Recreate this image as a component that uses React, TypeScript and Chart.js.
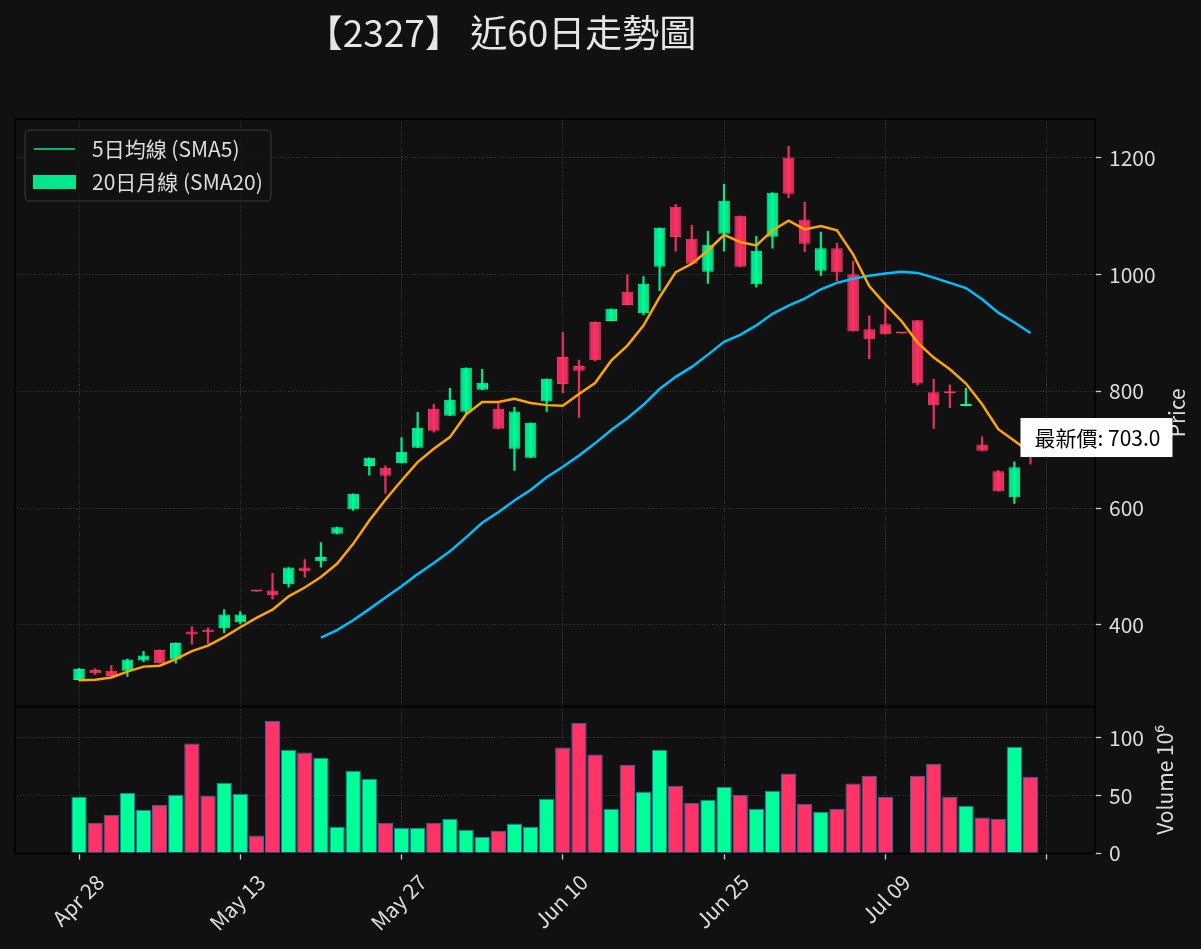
import React, { useEffect, useRef } from 'react';
import { Chart, registerables } from 'chart.js';

Chart.register(...registerables);

const FONT = "'Noto Sans CJK TC', 'Noto Sans', sans-serif";
const BG = '#111111';
const UP = '#00ff99';
const DOWN = '#ff3366';
const UP_FILL = 'rgba(0,255,153,0.9)';
const DOWN_FILL = 'rgba(255,51,102,0.9)';
const TEXT = '#dddddd';

const chartTitle = '【2327】 近60日走勢圖';
const xTickLabels = ['Apr 28', 'May 13', 'May 27', 'Jun 10', 'Jun 25', 'Jul 09', ''];
const priceTicks = [400, 600, 800, 1000, 1200];
const volumeTicks = [0, 50, 100];
const legendLabels = ['5日均線 (SMA5)', '20日月線 (SMA20)'];
const priceLabelPrefix = '最新價: ';

const opens = [
  305.6, 322.8, 321.6, 321.6, 338.8, 357.1, 340.5, 388.5, 392, 394.2,
  404.5, 457, 458.8, 469.7, 498.3, 509.1, 556, 598.3, 672, 669.1,
  677.1, 703.4, 770.3, 758.3, 765.1, 802.8, 770.3, 701.7, 686.3, 782.9,
  859, 843.5, 919, 920.8, 970.6, 933.9, 1013.5, 1116.5, 1061.5, 1004.9,
  1070.1, 1101, 983.7, 1065, 1200.6, 1094.7, 1006.9, 1045.1, 1000.6, 906.4,
  915, 899, 921.8, 798.6, 798, 775, 709, 663.3, 618.8, 712,
];
const highs = [
  325.5, 325.1, 330.2, 341.6, 354.8, 357.1, 369.1, 397.1, 394.8, 426.2,
  422.8, 457, 488, 498.3, 512, 541.1, 567.4, 624.6, 686.3, 672.6,
  721.1, 764, 777.7, 805.1, 840.5, 837.7, 780, 772.6, 746.3, 821.7,
  900.7, 853.8, 919, 941.4, 1000.3, 996.9, 1080.4, 1120.5, 1084.4, 1074.1,
  1154.8, 1101, 1065.5, 1140.5, 1220, 1124.4, 1073, 1053.6, 1023.4, 929.3,
  946.4, 899, 921.8, 820.8, 811.1, 805.4, 722.1, 665, 679.3, 718,
];
const lows = [
  305, 315.3, 312, 311.9, 337.1, 334.2, 334.2, 366.8, 367.9, 386.8,
  401.7, 457, 444, 464.6, 481.7, 498.8, 556, 596, 656.6, 625.7,
  677.1, 703.4, 730.3, 758.3, 760.5, 802.8, 736, 664.6, 686.3, 765.7,
  797.2, 755.4, 852.1, 920.8, 948.2, 931.1, 972.8, 1040.4, 1018.6, 984.9,
  1040.4, 1013.5, 978.6, 1045.5, 1131.3, 1039.4, 998.3, 989.2, 903, 856.2,
  897.9, 899, 810.6, 736.4, 772.3, 775, 698.2, 629.1, 608, 675.3,
];
const closes = [
  324.5, 317.1, 312.5, 340.5, 347.4, 334.2, 369.1, 383.9, 387.4, 417.7,
  417.7, 457, 450.8, 498.3, 492, 516.5, 567.4, 624.6, 686.3, 655.4,
  696.6, 737.7, 732.6, 785.7, 840.5, 814.8, 736, 765.7, 746.3, 821.7,
  812.6, 835.5, 853.3, 941.4, 948.2, 984.3, 1080.4, 1064.4, 1018.6, 1051.2,
  1126.8, 1013.5, 1040.9, 1140.5, 1138.8, 1053.1, 1045.1, 1004, 903, 889.3,
  897.9, 899, 813.4, 776.3, 796.9, 775.8, 698.2, 629.1, 670.2, 703,
];
// millions of shares
const volumes = [
  49, 26.5, 33.4, 52.4, 37.8, 42.1, 50.7, 95.1, 49.9, 61.1,
  51.6, 15.6, 114.7, 89.6, 87.3, 82.7, 23.1, 71.5, 64.6, 26.5,
  22.2, 22.2, 26.5, 30, 20.5, 14.4, 19.6, 25.6, 23.1, 47.3,
  91.5, 113, 85.6, 38.6, 76.7, 53.3, 89.6, 58.5, 43.8, 46.4,
  57.6, 50.7, 38.6, 54.2, 69.2, 42.9, 36, 38.6, 60.5, 67.1,
  49, 0, 67.1, 77.5, 49, 41.2, 31.1, 30, 92.2, 66.3,
];
const sma5 = [
  305, 306, 310, 320, 328.5, 330, 341.5, 355, 364.5, 379,
  396, 412, 426, 449, 464, 482, 504.6, 538.8, 578.8, 614.3,
  647.4, 678.8, 701.7, 721.7, 760.5, 781.7, 781.7, 787.4, 780, 776.5,
  775.5, 795.5, 814.3, 852.7, 878.4, 912.8, 961.4, 1004.3, 1018.6, 1041.5,
  1068.4, 1055.8, 1050.1, 1075.8, 1092.5, 1077.6, 1083.3, 1075.9, 1034.8, 980.6,
  949.2, 920.7, 883.6, 857.9, 838, 813.4, 778, 735.2, 715.3, 695,
];
const sma20 = [
  null, null, null, null, null, null, null, null, null, null,
  null, null, null, null, null, 378, 391, 408, 427, 447,
  466, 487, 506, 526, 550, 575, 593, 613, 631, 653,
  671, 690, 711, 734, 754, 777, 804, 825, 842, 863,
  885, 897, 913, 933, 947, 959, 975, 986, 993, 998,
  1002, 1005, 1003, 995, 986, 977, 958, 935, 918, 900,
];

const decorPlugin = {
  id: 'decor',
  beforeDraw(chart: any) {
    const { ctx, width, height } = chart;
    ctx.save();
    ctx.fillStyle = BG;
    ctx.fillRect(0, 0, width, height);
    ctx.restore();
  },
  afterDraw(chart: any) {
    const { ctx, chartArea } = chart;
    const ys = chart.scales.y;
    const yv = chart.scales.yv;
    const xs = chart.scales.x;
    ctx.save();
    // spines
    ctx.strokeStyle = '#000000';
    ctx.lineWidth = 1.6;
    ctx.strokeRect(chartArea.left, ys.top, chartArea.right - chartArea.left, ys.bottom - ys.top);
    ctx.strokeRect(chartArea.left, yv.top, chartArea.right - chartArea.left, yv.bottom - yv.top);

    // title
    ctx.fillStyle = '#e6e6e6';
    ctx.font = `37px ${FONT}`;
    ctx.textAlign = 'center';
    ctx.textBaseline = 'middle';
    ctx.fillText(chartTitle, 501, 33);

    // axis titles (rotated, reading upward)
    ctx.font = `21px ${FONT}`;
    ctx.fillStyle = TEXT;
    ctx.save();
    ctx.translate(1177, (ys.top + ys.bottom) / 2);
    ctx.rotate(-Math.PI / 2);
    ctx.fillText('Price', 0, 0);
    ctx.restore();
    ctx.save();
    ctx.translate(1165, (yv.top + yv.bottom) / 2);
    ctx.rotate(-Math.PI / 2);
    ctx.fillText('Volume 10⁶', 0, 0);
    ctx.restore();

    // legend
    const lx = chartArea.left + 10;
    const ly = chartArea.top + 11;
    ctx.beginPath();
    ctx.roundRect(lx, ly, 246, 71, 4);
    ctx.fillStyle = 'rgba(17,17,17,0.8)';
    ctx.fill();
    ctx.strokeStyle = '#383838';
    ctx.lineWidth = 1;
    ctx.stroke();
    ctx.strokeStyle = UP_FILL;
    ctx.lineWidth = 1.5;
    ctx.beginPath();
    ctx.moveTo(lx + 9, ly + 19);
    ctx.lineTo(lx + 50, ly + 19);
    ctx.stroke();
    ctx.fillStyle = UP_FILL;
    ctx.fillRect(lx + 8, ly + 45, 43, 14);
    ctx.fillStyle = TEXT;
    ctx.textAlign = 'left';
    ctx.textBaseline = 'middle';
    ctx.font = `21px ${FONT}`;
    ctx.fillText(legendLabels[0], lx + 67, ly + 19);
    ctx.fillText(legendLabels[1], lx + 67, ly + 52);

    // latest price box
    const last = closes.length - 1;
    const px = xs.getPixelForValue(last);
    const py = ys.getPixelForValue(closes[last]);
    const txt = priceLabelPrefix + closes[last].toFixed(1);
    const tw = ctx.measureText(txt).width;
    const bx = px - 10;
    const by = py - 30;
    ctx.fillStyle = '#ffffff';
    ctx.fillRect(bx, by, tw + 26, 39);
    ctx.fillStyle = '#000000';
    ctx.fillText(txt, bx + 14, by + 20);
    ctx.restore();
  },
};

export default function App() {
  const ref = useRef<HTMLCanvasElement | null>(null);

  useEffect(() => {
    document.body.style.margin = '0';
    document.body.style.background = BG;
    const canvas = ref.current;
    if (!canvas) return;
    const isUp = closes.map((c, i) => c > opens[i]);
    const edge = isUp.map((u) => (u ? UP : DOWN));
    const fill = isUp.map((u) => (u ? UP_FILL : DOWN_FILL));

    const gridCommon = {
      color: '#3a3a3a',
      lineWidth: 1,
      borderDash: [1, 1.65],
      tickColor: '#cccccc',
      tickLength: 6,
      tickWidth: 1.3,
      tickBorderDash: [],
    };
    const borderCommon = { display: false, dash: [1, 1.65] };
    const tickFont = { family: FONT, size: 21 };

    const chart = new Chart(canvas, {
      type: 'bar',
      data: {
        datasets: [
          {
            type: 'line',
            label: 'SMA5',
            data: sma5.map((v, i) => ({ x: i, y: v })),
            borderColor: '#ffa500',
            borderWidth: 2.5,
            pointRadius: 0,
            yAxisID: 'y',
            order: 0,
          } as any,
          {
            type: 'line',
            label: 'SMA20',
            data: sma20.map((v, i) => ({ x: i, y: v })),
            borderColor: '#00bfff',
            borderWidth: 2.5,
            pointRadius: 0,
            spanGaps: false,
            yAxisID: 'y',
            order: 0,
          } as any,
          {
            type: 'bar',
            label: 'wick',
            data: lows.map((l, i) => ({ x: i, y: [l, highs[i]] })),
            backgroundColor: fill,
            barThickness: 1.6,
            grouped: false,
            yAxisID: 'y',
            order: 2,
          } as any,
          {
            type: 'bar',
            label: 'body',
            data: opens.map((o, i) => ({ x: i, y: [o, closes[i]] })),
            backgroundColor: fill,
            borderColor: edge,
            borderWidth: 1,
            borderSkipped: false,
            barPercentage: 0.72,
            categoryPercentage: 1,
            minBarLength: 2,
            grouped: false,
            yAxisID: 'y',
            order: 1,
          } as any,
          {
            type: 'bar',
            label: 'volume',
            data: volumes.map((v, i) => ({ x: i, y: v })),
            backgroundColor: isUp.map((u) => (u ? UP : DOWN)),
            borderColor: '#1f77b4',
            borderWidth: 1,
            borderSkipped: false,
            barPercentage: 0.95,
            categoryPercentage: 1,
            grouped: false,
            yAxisID: 'yv',
            order: 3,
          } as any,
        ],
      },
      options: {
        responsive: false,
        animation: false,
        devicePixelRatio: 1,
        events: [],
        layout: { padding: { left: 15, top: 119, right: 0, bottom: 0 } },
        plugins: { legend: { display: false }, tooltip: { enabled: false }, title: { display: false } },
        scales: {
          x: {
            type: 'linear',
            min: -3.97,
            max: 63,
            offset: false,
            grid: { ...gridCommon, offset: false },
            border: borderCommon,
            afterBuildTicks: (s: any) => {
              s.ticks = xTickLabels.map((_, k) => ({ value: k * 10 }));
            },
            ticks: {
              autoSkip: false,
              minRotation: 45,
              maxRotation: 45,
              labelOffset: 21,
              padding: 10,
              color: TEXT,
              font: tickFont,
              callback: (v: any) => xTickLabels[Math.round(Number(v) / 10)] ?? '',
            },
            afterFit: (s: any) => {
              s.height = 95.5;
            },
          },
          y: {
            type: 'linear',
            position: 'right',
            stack: 'panels',
            stackWeight: 4,
            min: 260,
            max: 1266.7,
            grid: gridCommon,
            border: borderCommon,
            afterBuildTicks: (s: any) => {
              s.ticks = priceTicks.map((v) => ({ value: v }));
            },
            ticks: {
              padding: 8,
              color: TEXT,
              font: tickFont,
              callback: (v: any) => String(v),
            },
            afterFit: (s: any) => {
              s.width = 106;
            },
          },
          yv: {
            type: 'linear',
            position: 'right',
            stack: 'panels',
            stackWeight: 1,
            min: 0,
            max: 126.9,
            grid: gridCommon,
            border: borderCommon,
            afterBuildTicks: (s: any) => {
              s.ticks = volumeTicks.map((v) => ({ value: v }));
            },
            ticks: {
              padding: 8,
              color: TEXT,
              font: tickFont,
              callback: (v: any) => String(v),
            },
            afterFit: (s: any) => {
              s.width = 106;
            },
          },
        },
      } as any,
      plugins: [decorPlugin],
    });
    return () => chart.destroy();
  }, []);

  return (
    <div style={{ position: 'absolute', left: 0, top: 0, width: 1201, height: 949, background: BG }}>
      <canvas ref={ref} width={1201} height={949} />
    </div>
  );
}
